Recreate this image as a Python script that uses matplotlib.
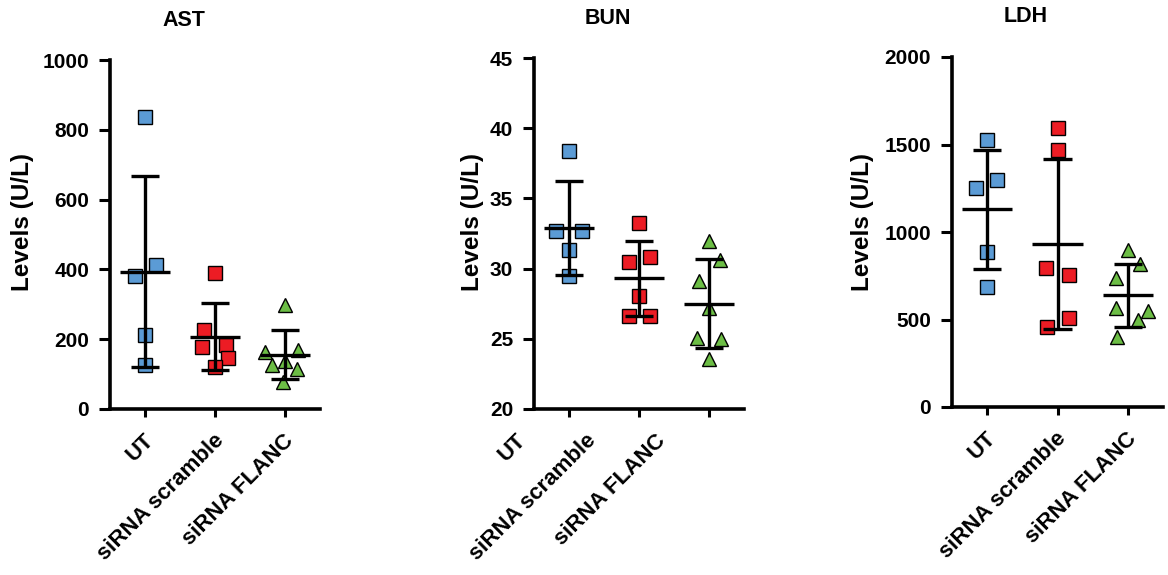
import matplotlib
matplotlib.use('Agg')
import matplotlib.pyplot as plt
import numpy as np
from matplotlib.transforms import ScaledTranslation

plt.rcParams['font.family'] = ['Liberation Sans', 'DejaVu Sans']
plt.rcParams['font.weight'] = 'bold'

# ---------------- data ----------------
groups = ['UT', 'siRNA scramble', 'siRNA FLANC']
titles = ['AST', 'BUN', 'LDH']
ylabel_text = 'Levels (U/L)'

ast_ut = [836, 413, 380, 211, 127]
ast_scr = [391, 227, 179, 184, 146, 119]
ast_flanc = [298, 164, 169, 126, 138, 116, 78]

bun_ut = [38.41, 32.71, 32.71, 31.29, 29.44]
bun_scr = [33.28, 30.46, 30.86, 28.06, 26.59, 26.64]
bun_flanc = [32.0, 30.6, 29.15, 27.18, 25.08, 25.0, 23.56]

ldh_ut = [1525, 1297, 1253, 884, 684]
ldh_scr = [1595, 1468, 793, 755, 508, 460]
ldh_flanc = [897, 817, 735, 550, 564, 497, 402]

ast_ticks = [0, 200, 400, 600, 800, 1000]
bun_ticks = [20, 25, 30, 35, 40, 45]
ldh_ticks = [0, 500, 1000, 1500, 2000]

# swarm layout: horizontal slot of each point (fraction of category spacing)
ast_slots = [[0, .15, -.15, 0, 0],
             [0, -.16, -.19, .16, .19, 0],
             [0, -.29, .19, -.19, 0, .17, -.03]]
bun_slots = [[0, -.19, .18, 0, 0],
             [0, -.15, .15, 0, -.15, .15],
             [0, .15, -.15, 0, -.17, .17, 0]]
ldh_slots = [[0, .14, -.16, 0, 0],
             [0, 0, -.16, .16, .16, -.15],
             [0, .17, -.17, .29, -.17, .14, -.16]]

# ---------------- style ----------------
colors = ['#5B9BD5', '#EC1C24', '#6CBD45']
markers = ['s', 's', '^']
msizes = [10, 10, 10.5]

fig = plt.figure(figsize=(11.68, 5.75), dpi=100)
W, H = 1168, 575

panels = [
    dict(data=[ast_ut, ast_scr, ast_flanc], slots=ast_slots, ticks=ast_ticks,
         rect=(110, 60, 320, 409), title=titles[0], xshift=-2, ylab_x=-87),
    dict(data=[bun_ut, bun_scr, bun_flanc], slots=bun_slots, ticks=bun_ticks,
         rect=(534, 58, 744, 409), title=titles[1], xshift=-54, ylab_x=-61),
    dict(data=[ldh_ut, ldh_scr, ldh_flanc], slots=ldh_slots, ticks=ldh_ticks,
         rect=(952, 57, 1163, 407), title=titles[2], xshift=-2, ylab_x=-89),
]

for p in panels:
    l, t, r, b = p['rect']
    ax = fig.add_axes([l / W, (H - b) / H, (r - l) / W, (b - t) / H])
    for i, (vals, sl) in enumerate(zip(p['data'], p['slots'])):
        v = np.array(vals, dtype=float)
        x = i + np.array(sl)
        ax.plot(x, v, linestyle='none', marker=markers[i], ms=msizes[i],
                mfc=colors[i], mec='black', mew=1.0, zorder=2, clip_on=False)
        m = v.mean()
        sd = v.std(ddof=1)
        ax.vlines(i, m - sd, m + sd, color='black', lw=2.4, zorder=3)
        ax.hlines(m, i - 0.36, i + 0.36, color='black', lw=2.4, zorder=3)
        ax.hlines([m - sd, m + sd], i - 0.2, i + 0.2, color='black', lw=2.4, zorder=3)

    ax.set_xlim(-0.5, 2.5)
    ax.set_ylim(p['ticks'][0], p['ticks'][-1])
    ax.set_yticks(p['ticks'])
    ax.set_xticks(range(len(groups)))
    ax.set_xticklabels([])
    off = ScaledTranslation(p['xshift'] / 100, -21 / 100, fig.dpi_scale_trans)
    for i, g in enumerate(groups):
        ax.text(i, 0, g, transform=ax.get_xaxis_transform() + off,
                rotation=45, ha='right', va='top', rotation_mode='anchor',
                fontsize=16, fontweight='bold')
    ax.tick_params(axis='y', length=8, width=2.2, labelsize=15, pad=7)
    ax.tick_params(axis='x', length=6, width=2.2)
    for lab in ax.get_yticklabels():
        lab.set_fontweight('bold')
    for s in ['top', 'right']:
        ax.spines[s].set_visible(False)
    for s in ['left', 'bottom']:
        ax.spines[s].set_linewidth(2.6)
    ax.text(0.35, 1 + 40 / (b - t), p['title'], transform=ax.transAxes,
            ha='center', va='center', fontsize=15.5, fontweight='bold')
    ax.text(p['ylab_x'] / (r - l), (b - 222) / (b - t), ylabel_text,
            transform=ax.transAxes, rotation=90, ha='center', va='center',
            fontsize=17.5, fontweight='bold')

fig.savefig('out.png', dpi=100)
